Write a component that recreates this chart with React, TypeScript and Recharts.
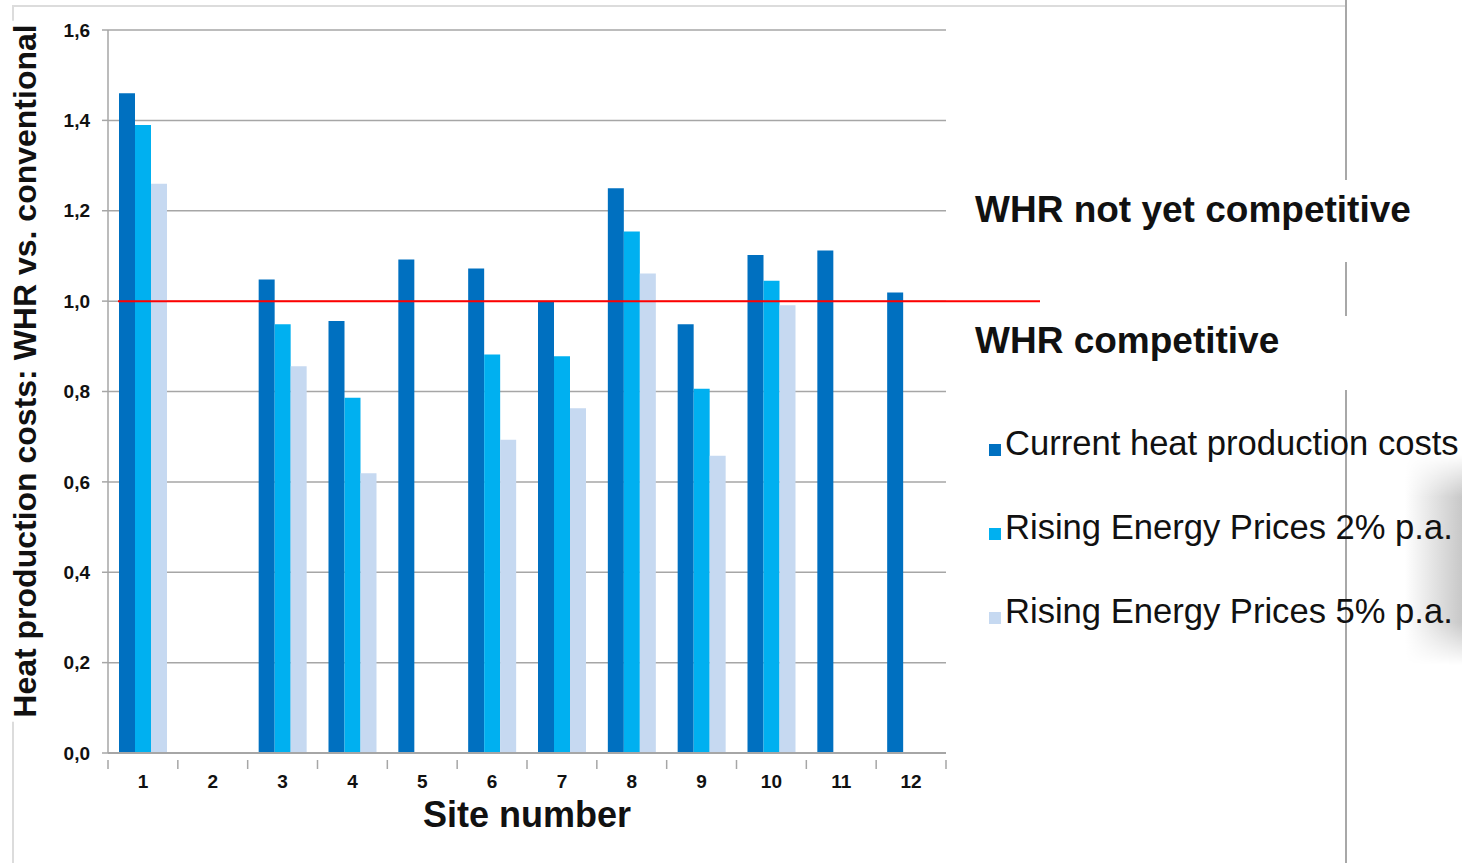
import { BarChart, Bar, XAxis, YAxis, CartesianGrid, ReferenceLine, Legend } from 'recharts';

const sites = ['1', '2', '3', '4', '5', '6', '7', '8', '9', '10', '11', '12'];
const currentCosts = [1.46, null, 1.048, 0.956, 1.092, 1.072, 1.0, 1.25, 0.949, 1.102, 1.112, 1.019];
const rising2 = [1.39, null, 0.949, 0.786, null, 0.882, 0.878, 1.154, 0.806, 1.045, null, null];
const rising5 = [1.26, null, 0.856, 0.619, null, 0.693, 0.763, 1.061, 0.658, 0.991, null, null];
const yTicks = [0, 0.2, 0.4, 0.6, 0.8, 1.0, 1.2, 1.4, 1.6];
const threshold = 1.0;

const seriesNames = {
  current: 'Current heat production costs',
  rise2: 'Rising Energy Prices 2% p.a.',
  rise5: 'Rising Energy Prices 5% p.a.',
};

const data = sites.map((site, i) => ({
  site,
  current: currentCosts[i],
  rise2: rising2[i],
  rise5: rising5[i],
}));

const W = 1462;
const H = 863;
const PLOT_LEFT = 108;
const PLOT_RIGHT = 946;
const AXIS_GRAY = '#a6a6a6';
const FONT = '"Liberation Sans", Arial, sans-serif';
const band = (PLOT_RIGHT - PLOT_LEFT) / sites.length;

// category label plus boundary tick marks between sites
function SiteTick(props: any) {
  const { x, y, payload, index } = props;
  return (
    <g>
      <line x1={x - band / 2} y1={y - 1} x2={x - band / 2} y2={y + 8} stroke={AXIS_GRAY} strokeWidth={1.5} />
      {index === sites.length - 1 && (
        <line x1={x + band / 2} y1={y - 1} x2={x + band / 2} y2={y + 8} stroke={AXIS_GRAY} strokeWidth={1.5} />
      )}
      <text x={x} y={y + 27} textAnchor="middle" fontFamily={FONT} fontWeight="bold" fontSize={19} fill="#111">
        {payload.value}
      </text>
    </g>
  );
}

function ThresholdLine(props: any) {
  const { x1, y1, x2 } = props;
  return <line x1={x1 + 10} y1={y1} x2={x2 + 94} y2={y1} stroke="#ff0000" strokeWidth={2} />;
}

function LegendBox(props: any) {
  const { payload } = props;
  return (
    <div style={{ fontFamily: FONT }}>
      {payload.map((p: any) => (
        <div key={p.value} style={{ height: 84, position: 'relative' }}>
          <span
            style={{
              position: 'absolute',
              left: 0,
              top: 21,
              width: 12,
              height: 12,
              background: p.color,
            }}
          />
          <span
            style={{
              position: 'absolute',
              left: 16,
              top: 0,
              fontSize: 34.6,
              lineHeight: '40px',
              color: '#111',
              whiteSpace: 'nowrap',
            }}
          >
            {p.value}
          </span>
        </div>
      ))}
    </div>
  );
}

export default function App() {
  return (
    <div style={{ position: 'fixed', left: 0, top: 0, width: W, height: H, background: '#fff', overflow: 'hidden' }}>
      {/* slide frame */}
      <div style={{ position: 'absolute', left: 12, top: 5, width: 1333, height: 900, borderTop: '2px solid #dcdcdc', borderLeft: '2px solid #dcdcdc' }} />
      <div style={{ position: 'absolute', left: 1345, top: 0, width: 2, height: H, background: '#a8a8a8' }} />
      <div
        style={{
          position: 'absolute',
          left: 1405,
          top: 455,
          width: 57,
          height: 210,
          background: 'linear-gradient(to right, #ffffff, #c8c8c8)',
          WebkitMaskImage: 'linear-gradient(to bottom, transparent, #000 20%, #000 80%, transparent)',
          maskImage: 'linear-gradient(to bottom, transparent, #000 20%, #000 80%, transparent)',
        }}
      />

      <div style={{ position: 'absolute', left: 0, top: 0 }}>
        <BarChart
          width={W}
          height={H}
          data={data}
          margin={{ top: 30, right: W - PLOT_RIGHT, bottom: 50, left: 0 }}
          barCategoryGap={11}
          barGap={0}
        >
          <CartesianGrid vertical={false} stroke={AXIS_GRAY} strokeWidth={1.5} />
          <XAxis
            dataKey="site"
            height={60}
            stroke={AXIS_GRAY}
            strokeWidth={2}
            tickLine={false}
            tick={<SiteTick />}
            interval={0}
          />
          <YAxis
            width={PLOT_LEFT}
            domain={[0, 1.6]}
            ticks={yTicks}
            stroke={AXIS_GRAY}
            strokeWidth={1.5}
            tickSize={6}
            tickMargin={12}
            tickFormatter={(v: number) => v.toFixed(1).replace('.', ',')}
            tick={{ fontFamily: FONT, fontWeight: 'bold', fontSize: 19, fill: '#111' }}
          />
          <Bar dataKey="current" name={seriesNames.current} fill="#0070c0" isAnimationActive={false} />
          <Bar dataKey="rise2" name={seriesNames.rise2} fill="#00b0f0" isAnimationActive={false} />
          <Bar dataKey="rise5" name={seriesNames.rise5} fill="#c6d9f1" isAnimationActive={false} />
          <ReferenceLine y={threshold} ifOverflow="visible" shape={<ThresholdLine />} />
          <Legend
            layout="vertical"
            verticalAlign="middle"
            align="center"
            content={<LegendBox />}
            wrapperStyle={{ position: 'absolute', left: 989, top: 423, width: 470 }}
          />
        </BarChart>
      </div>

      {/* axis titles */}
      <div
        style={{
          position: 'absolute',
          left: 25,
          top: 371,
          transform: 'translate(-50%, -50%) rotate(-90deg)',
          fontFamily: FONT,
          fontWeight: 'bold',
          fontSize: 32,
          color: '#111',
          whiteSpace: 'nowrap',
          background: '#fff',
          lineHeight: '34px',
          padding: '0 4px',
        }}
      >
        Heat production costs: WHR vs. conventional
      </div>
      <div
        style={{
          position: 'absolute',
          left: 527,
          top: 797,
          transform: 'translateX(-50%)',
          fontFamily: FONT,
          fontWeight: 'bold',
          fontSize: 36,
          lineHeight: '36px',
          color: '#111',
          whiteSpace: 'nowrap',
        }}
      >
        Site number
      </div>

      {/* region labels above / below the threshold */}
      <div
        style={{
          position: 'absolute',
          left: 975,
          top: 180,
          width: 440,
          height: 82,
          background: '#fff',
          fontFamily: FONT,
          fontWeight: 'bold',
          fontSize: 37,
          lineHeight: '60px',
          color: '#111',
          whiteSpace: 'nowrap',
        }}
      >
        WHR not yet competitive
      </div>
      <div
        style={{
          position: 'absolute',
          left: 975,
          top: 316,
          width: 440,
          height: 74,
          background: '#fff',
          fontFamily: FONT,
          fontWeight: 'bold',
          fontSize: 37,
          lineHeight: '50px',
          color: '#111',
          whiteSpace: 'nowrap',
        }}
      >
        WHR competitive
      </div>
    </div>
  );
}
